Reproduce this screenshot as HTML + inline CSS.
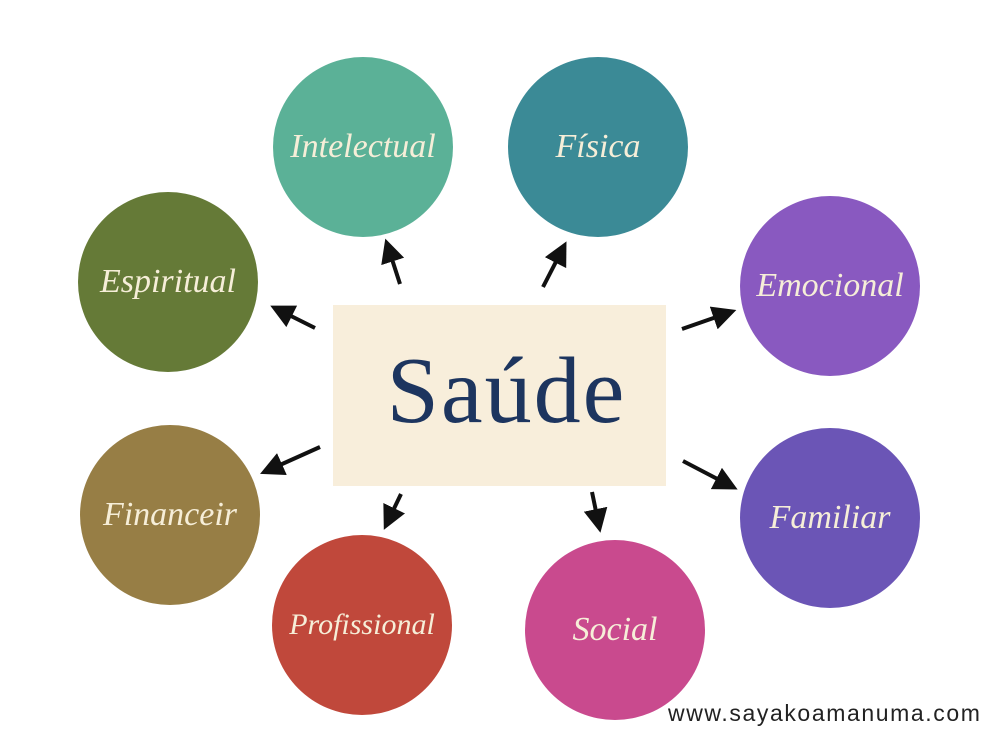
<!DOCTYPE html>
<html><head><meta charset="utf-8"><style>
html,body{margin:0;padding:0;background:#fff;}
body{width:1000px;height:750px;position:relative;overflow:hidden;font-family:"Liberation Serif",serif;}
.c{position:absolute;width:180px;height:180px;border-radius:50%;display:flex;align-items:center;justify-content:center;color:#f6eed8;font-style:italic;font-size:34px;}
.box{position:absolute;left:333px;top:305px;width:333px;height:181px;background:#f8eedb;}
.t{position:absolute;left:333px;top:300px;width:333px;height:181px;display:flex;align-items:center;justify-content:center;font-size:94px;letter-spacing:2px;color:#1d355f;padding-left:14px;box-sizing:border-box;}
.w{position:absolute;left:668px;top:700px;font-family:"Liberation Sans",sans-serif;font-size:23px;letter-spacing:1.6px;color:#222;}
</style></head><body>
<div class="c" style="left:273px;top:57px;background:#5bb197">Intelectual</div>
<div class="c" style="left:508px;top:57px;background:#3b8a96">Física</div>
<div class="c" style="left:78px;top:192px;background:#657a37">Espiritual</div>
<div class="c" style="left:740px;top:196px;background:#8959c0">Emocional</div>
<div class="c" style="left:80px;top:425px;background:#977e45">Financeir</div>
<div class="c" style="left:740px;top:428px;background:#6b55b6">Familiar</div>
<div class="c" style="left:272px;top:535px;background:#c0483b;font-size:30px">Profissional</div>
<div class="c" style="left:525px;top:540px;background:#c94a8e">Social</div>
<div class="box"></div>
<div class="t">Saúde</div>
<svg width="1000" height="750" style="position:absolute;left:0;top:0">
<defs><marker id="a" markerWidth="6" markerHeight="6" refX="3" refY="3" orient="auto" markerUnits="strokeWidth"><path d="M0,0 L6,3 L0,6 Z" fill="#111"/></marker></defs>
<g stroke="#111" stroke-width="4" marker-end="url(#a)">
<line x1="400" y1="284" x2="389" y2="250"/>
<line x1="543" y1="287" x2="561" y2="252"/>
<line x1="315" y1="328" x2="281" y2="311"/>
<line x1="682" y1="329" x2="725" y2="314"/>
<line x1="320" y1="447" x2="271" y2="469"/>
<line x1="683" y1="461" x2="727" y2="484"/>
<line x1="401" y1="494" x2="389" y2="519"/>
<line x1="592" y1="492" x2="598" y2="521"/>
</g></svg>
<div class="w">www.sayakoamanuma.com</div>
</body></html>
